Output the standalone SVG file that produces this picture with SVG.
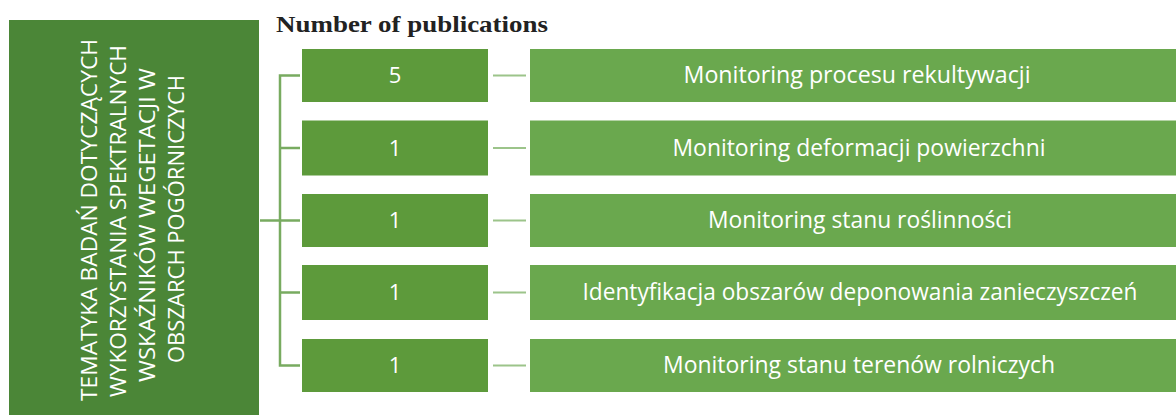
<svg xmlns="http://www.w3.org/2000/svg" width="1176" height="415" viewBox="0 0 1176 415">
  <style>
    .root { fill: #4b8637; }
    .count { fill: #5d9a3b; }
    .topic { fill: #6aa84e; }
    .lbl { font-family: "Open Sans", "Liberation Sans", sans-serif; fill: #ffffff; }
    .num { font-size: 22px; text-anchor: middle; }
    .topicTxt { font-size: 23px; text-anchor: middle; }
    .rootTxt { font-size: 22px; text-anchor: middle; }
    .bracket { stroke: #78ab60; stroke-width: 2.5; fill: none; }
    .link { stroke: #9cc48a; stroke-width: 2; fill: none; }
    .title { font-family: "Liberation Serif", "Times New Roman", serif; font-weight: bold; font-size: 23px; fill: #222222; }
  </style>

  <rect width="1176" height="415" fill="#ffffff"/>

  <text class="title" x="276" y="32" textLength="272" lengthAdjust="spacingAndGlyphs">Number of publications</text>

  <!-- root topic, vertical caption -->
  <g id="root">
    <rect class="root" x="9" y="20" width="250" height="400"/>
    <g transform="translate(0,220) rotate(-90)">
      <text class="lbl rootTxt" x="0" y="97" textLength="362" lengthAdjust="spacingAndGlyphs">TEMATYKA  BADAŃ DOTYCZĄCYCH</text>
      <text class="lbl rootTxt" x="-1" y="126" textLength="352" lengthAdjust="spacingAndGlyphs">WYKORZYSTANIA SPEKTRALNYCH</text>
      <text class="lbl rootTxt" x="-5" y="155" textLength="314" lengthAdjust="spacingAndGlyphs">WSKAŹNIKÓW WEGETACJI W</text>
      <text class="lbl rootTxt" x="1" y="184" textLength="288" lengthAdjust="spacingAndGlyphs">OBSZARCH POGÓRNICZYCH</text>
    </g>
  </g>

  <!-- connectors -->
  <g id="connectors">
    <path class="bracket" d="M260 220.5 H280 M300 75.5 H280 V365.5 H300 M280 148 H300 M280 220.5 H300 M280 292.5 H300"/>
    <path class="link" d="M493 75.5 H526 M493 148 H526 M493 220.5 H526 M493 292.5 H526 M493 365.5 H526"/>
  </g>

  <!-- publication counts -->
  <g id="count-1"><rect class="count" x="302" y="49" width="186" height="53"/><text class="lbl num" x="395" y="83">5</text></g>
  <g id="count-2"><rect class="count" x="302" y="120.5" width="186" height="55"/><text class="lbl num" x="395" y="156">1</text></g>
  <g id="count-3"><rect class="count" x="302" y="194" width="186" height="53"/><text class="lbl num" x="395" y="228">1</text></g>
  <g id="count-4"><rect class="count" x="302" y="265" width="186" height="55"/><text class="lbl num" x="395" y="300">1</text></g>
  <g id="count-5"><rect class="count" x="302" y="339" width="186" height="53"/><text class="lbl num" x="395" y="373">1</text></g>

  <!-- research topics -->
  <g id="topic-1"><rect class="topic" x="530" y="49" width="646" height="53"/><text class="lbl topicTxt" x="857" y="83" textLength="347" lengthAdjust="spacingAndGlyphs">Monitoring procesu rekultywacji</text></g>
  <g id="topic-2"><rect class="topic" x="530" y="120.5" width="646" height="55"/><text class="lbl topicTxt" x="859" y="156" textLength="373" lengthAdjust="spacingAndGlyphs">Monitoring deformacji powierzchni</text></g>
  <g id="topic-3"><rect class="topic" x="530" y="194" width="646" height="53"/><text class="lbl topicTxt" x="860" y="228" textLength="304" lengthAdjust="spacingAndGlyphs">Monitoring stanu roślinności</text></g>
  <g id="topic-4"><rect class="topic" x="530" y="265" width="646" height="55"/><text class="lbl topicTxt" x="860" y="300" textLength="555" lengthAdjust="spacingAndGlyphs">Identyfikacja obszarów deponowania zanieczyszczeń</text></g>
  <g id="topic-5"><rect class="topic" x="530" y="339" width="646" height="53"/><text class="lbl topicTxt" x="859" y="373" textLength="392" lengthAdjust="spacingAndGlyphs">Monitoring stanu terenów rolniczych</text></g>
</svg>
